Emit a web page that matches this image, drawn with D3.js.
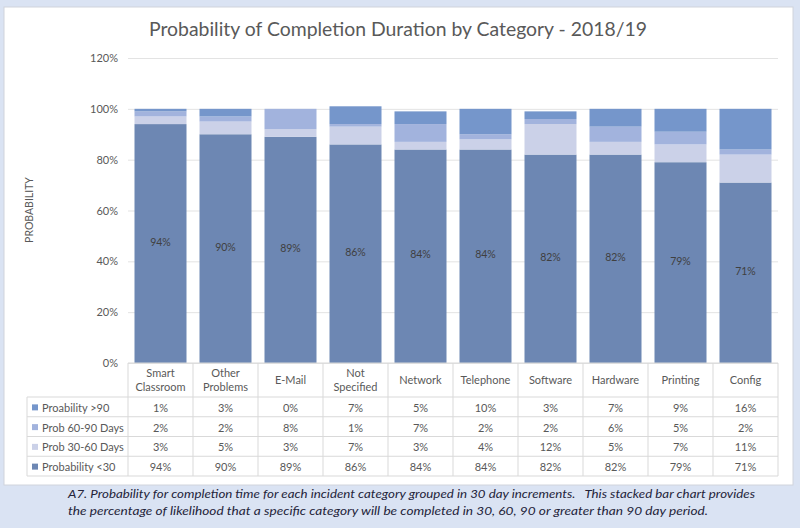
<!DOCTYPE html>
<html>
<head>
<meta charset="utf-8">
<script src="https://cdn.jsdelivr.net/npm/d3@7"></script>
<style>
  html, body { margin: 0; padding: 0; background: #dae3f3; }
  svg { display: block; }
  text { font-family: Lato, "Open Sans", sans-serif; }
  .caption { white-space: pre; }
</style>
</head>
<body>
<svg id="chart" width="800" height="528"></svg>
<script>
const title = "Probability of Completion Duration by Category - 2018/19";
const categories = ["Smart Classroom","Other Problems","E-Mail","Not Specified","Network","Telephone","Software","Hardware","Printing","Config"];
const categoryLines = [["Smart","Classroom"],["Other","Problems"],["E-Mail"],["Not","Specified"],["Network"],["Telephone"],["Software"],["Hardware"],["Printing"],["Config"]];
const seriesNames = ["Proability >90","Prob 60-90 Days","Prob 30-60 Days","Probability <30"];
const probOver90   = [1,3,0,7,5,10,3,7,9,16];
const prob60to90   = [2,2,8,1,7,2,2,6,5,2];
const prob30to60   = [3,5,3,7,3,4,12,5,7,11];
const probUnder30  = [94,90,89,86,84,84,82,82,79,71];
const yTicks = [0,20,40,60,80,100,120];
const captionLines = [
  "A7. Probability for completion time for each incident category grouped in 30 day increments.   This stacked bar chart provides",
  "the percentage of likelihood that a specific category will be completed in 30, 60, 90 or greater than 90 day period."
];

const seriesValues = [probOver90, prob60to90, prob30to60, probUnder30];
const seriesColors = ["#7596cb", "#a2b3dd", "#cbd1e8", "#6d87b3"];
const stackKeys = ["under30", "d30to60", "d60to90", "over90"];
const keyColor = {under30: "#6d87b3", d30to60: "#cbd1e8", d60to90: "#a2b3dd", over90: "#7596cb"};

const rows = categories.map((c, i) => ({
  cat: c, under30: probUnder30[i], d30to60: prob30to60[i], d60to90: prob60to90[i], over90: probOver90[i]
}));

const svg = d3.select("#chart");

// background panel
svg.append("rect").attr("x", 0).attr("y", 0).attr("width", 800).attr("height", 528).attr("fill", "#dae3f3");
svg.append("rect").attr("x", 4).attr("y", 7).attr("width", 789).attr("height", 478)
  .attr("fill", "#ffffff").attr("stroke", "#d0d4dc").attr("stroke-width", 1);

const x = d3.scaleBand().domain(categories).range([128, 778]).paddingInner(0.2).paddingOuter(0.1);
const y = d3.scaleLinear().domain([0, 120]).range([363, 58]);

// title
svg.append("text").attr("x", 398).attr("y", 36).attr("text-anchor", "middle")
  .attr("font-size", 18.5).attr("fill", "#595959").attr("textLength", 498).attr("lengthAdjust", "spacingAndGlyphs")
  .text(title);

// gridlines
const grid = svg.append("g").attr("transform", "translate(128,0)")
  .call(d3.axisLeft(y).tickValues(yTicks).tickSize(-650).tickFormat(""));
grid.select(".domain").remove();
grid.selectAll("line").attr("stroke", "#e3e3e3");

// y axis labels
const yAxis = svg.append("g").attr("transform", "translate(118,0)")
  .call(d3.axisLeft(y).tickValues(yTicks).tickSize(0).tickPadding(0).tickFormat(d => d + "%"));
yAxis.select(".domain").remove();
yAxis.selectAll("text").attr("font-size", 11).attr("fill", "#595959").attr("font-family", "Lato, sans-serif");

// y axis title
svg.append("text").attr("transform", "translate(33,210) rotate(-90)").attr("text-anchor", "middle")
  .attr("font-size", 10.5).attr("fill", "#595959").text("PROBABILITY");

// stacked bars
const stacked = d3.stack().keys(stackKeys)(rows);
svg.append("g").selectAll("g").data(stacked).join("g")
  .attr("fill", d => keyColor[d.key])
  .selectAll("rect").data(d => d).join("rect")
  .attr("x", d => x(d.data.cat))
  .attr("width", x.bandwidth())
  .attr("y", d => y(d[1]))
  .attr("height", d => y(d[0]) - y(d[1]));

// labels in bottom segment
svg.append("g").selectAll("text").data(rows).join("text")
  .attr("x", d => x(d.cat) + x.bandwidth() / 2)
  .attr("y", d => y(d.under30 / 2) + 2)
  .attr("text-anchor", "middle").attr("font-size", 10.5).attr("fill", "#404040")
  .text(d => d.under30 + "%");

// data table
const tableLeft = 27, tableRight = 778, headerTop = 363, headerBottom = 397, rowH = 19.75;
const lineColor = "#d9d9d9";
const tbl = svg.append("g");
const cellLeft = c => x(c) - (x.step() - x.bandwidth()) / 2;
const tableBottom = headerBottom + rowH * seriesNames.length;

tbl.append("line").attr("x1", 128).attr("x2", tableRight).attr("y1", headerTop).attr("y2", headerTop).attr("stroke", lineColor);
for (let r = 0; r <= seriesNames.length; r++) {
  const yy = headerBottom + r * rowH;
  tbl.append("line").attr("x1", tableLeft).attr("x2", tableRight).attr("y1", yy).attr("y2", yy).attr("stroke", lineColor);
}
categories.forEach(c => {
  tbl.append("line").attr("x1", cellLeft(c)).attr("x2", cellLeft(c)).attr("y1", headerTop).attr("y2", tableBottom).attr("stroke", lineColor);
});
tbl.append("line").attr("x1", tableRight).attr("x2", tableRight).attr("y1", headerTop).attr("y2", tableBottom).attr("stroke", lineColor);
tbl.append("line").attr("x1", tableLeft).attr("x2", tableLeft).attr("y1", headerBottom).attr("y2", tableBottom).attr("stroke", lineColor);

// header labels
categories.forEach((c, i) => {
  const lines = categoryLines[i];
  const cx = x(c) + x.bandwidth() / 2;
  const cy = (headerTop + headerBottom) / 2;
  const t = tbl.append("text").attr("text-anchor", "middle").attr("font-size", 11).attr("fill", "#595959");
  lines.forEach((ln, k) => {
    t.append("tspan").attr("x", cx)
      .attr("y", cy + 4 + (k - (lines.length - 1) / 2) * 14.5)
      .text(ln);
  });
});

// rows
seriesNames.forEach((name, r) => {
  const cy = headerBottom + r * rowH + rowH / 2 + 1;
  tbl.append("rect").attr("x", 32).attr("y", cy - 3.5).attr("width", 6).attr("height", 6).attr("fill", seriesColors[r]);
  tbl.append("text").attr("x", 42).attr("y", cy + 4).attr("font-size", 11).attr("fill", "#595959").text(name);
  categories.forEach((c, i) => {
    tbl.append("text").attr("x", x(c) + x.bandwidth() / 2).attr("y", cy + 4)
      .attr("text-anchor", "middle").attr("font-size", 11).attr("fill", "#595959")
      .text(seriesValues[r][i] + "%");
  });
});

// caption
const capLens = [687, 640];
captionLines.forEach((ln, i) => {
  svg.append("text").attr("class", "caption").attr("x", 68).attr("y", 498 + i * 17)
    .attr("font-size", 11.5).attr("font-style", "italic").attr("fill", "#24243a")
    .attr("textLength", capLens[i]).attr("lengthAdjust", "spacingAndGlyphs")
    .text(ln);
});
</script>
</body>
</html>
